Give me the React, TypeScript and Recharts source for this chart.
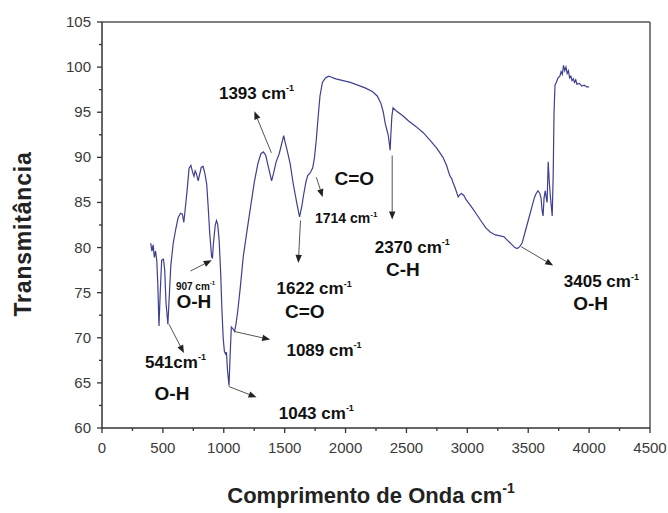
import React from 'react';
import {
  LineChart,
  Line,
  XAxis,
  YAxis,
  ReferenceLine,
  ReferenceDot,
  Label,
} from 'recharts';

// ── FTIR spectrum ──
const WAVENUMBER = [
  400, 410, 420, 430, 440, 450, 458, 468, 478, 490,
  505, 515, 525, 541, 550, 565, 585, 605, 625, 645,
  660, 672, 685, 700, 715, 730, 745, 755, 765, 775,
  790, 800, 815, 830, 845, 860, 872, 885, 900, 907,
  915, 930, 940, 950, 962, 975, 985, 995, 1005, 1015,
  1022, 1030, 1043, 1052, 1062, 1075, 1089, 1100, 1115, 1135,
  1160, 1190, 1220, 1250, 1280, 1305, 1325, 1345, 1365, 1393,
  1410, 1430, 1455, 1470, 1492, 1505, 1520, 1545, 1570, 1600,
  1622, 1640, 1655, 1675, 1690, 1705, 1714, 1730, 1745, 1760,
  1775, 1790, 1810, 1835, 1860, 1880, 1920, 1980, 2040, 2100,
  2160, 2220, 2260, 2290, 2310, 2325, 2340, 2350, 2360, 2366,
  2372, 2380, 2390, 2420, 2470, 2520, 2580, 2640, 2700, 2750,
  2800, 2830, 2850, 2862, 2870, 2880, 2900, 2915, 2925, 2935,
  2950, 2970, 2990, 3030, 3070, 3110, 3150, 3190, 3230, 3270,
  3300, 3330, 3360, 3390, 3410, 3430, 3450, 3470, 3490, 3510,
  3530, 3550, 3565, 3580, 3595, 3605, 3615, 3622, 3630, 3640,
  3648, 3655, 3664, 3672, 3680, 3690, 3697, 3705, 3712, 3720,
  3730, 3745, 3760, 3770, 3780, 3790, 3800, 3810, 3820, 3830,
  3840, 3850, 3860, 3870, 3880, 3890, 3900, 3920, 3940, 3960,
  3980, 4000,
];

const TRANSMITTANCE = [
  80.5, 79.6, 80.3, 78.9, 79.6, 78.5, 76, 71.3, 75, 78.6,
  78.7, 77.5, 74, 71.5, 74, 78, 80.5, 82, 83.3, 83.8,
  83.7, 82.8, 84.5, 86.5, 88.8, 89.1, 88.3, 87.9, 88.5, 88.2,
  87.4, 88, 88.9, 89, 88.2, 87, 84.5, 81.5, 79, 78.8,
  80.5, 82.5, 83, 82.6, 80.8, 77, 73, 70, 68.5, 68.2,
  68.4, 66.5, 64.7, 68, 71.2, 71, 70.7, 71.5, 73, 75.5,
  79, 81.8, 84.5, 87.2, 89.3, 90.4, 90.6, 90.2, 89, 87.4,
  88.3, 89.5, 90.4, 91.2, 92.4, 91.6, 90.8, 89.3, 87.1, 84.9,
  83.4, 84.5, 85.8, 87.3, 88, 88.2, 88.4, 88.8, 90, 92,
  94.5, 96.8, 98.3, 98.8, 99, 98.9, 98.7, 98.5, 98.3, 98,
  97.7, 97.3, 96.8, 96, 95, 93.8, 93, 92.5, 91.5, 90.8,
  92.5, 94.5, 95.5, 95.1, 94.6, 94, 93.4, 92.7, 91.8, 91,
  90, 89.1, 88.2, 87.8, 87.7, 87.3, 86.6, 86, 85.6, 85.8,
  86, 85.8, 85.3, 84.6, 83.8, 83, 82.2, 81.7, 81.4, 81.3,
  81.2, 80.8, 80.4, 80, 79.9, 80.1, 80.5, 81.5, 82.5, 83.5,
  84.5, 85.5, 86, 86.3, 86, 85.5, 84, 83.5, 85.5, 86.3,
  85.5, 85, 89.5, 87.5, 86, 84.5, 83.5, 88, 95, 98,
  98.3, 98.8, 99, 99.5, 99.2, 100.2, 99.6, 100, 99.3, 99.6,
  98.8, 99, 98.5, 98.7, 98.3, 98.6, 98.1, 98.2, 97.9, 98,
  97.8, 97.8,
];

const X_TICKS = [
  0, 250, 500, 750, 1000, 1250, 1500, 1750, 2000, 2250, 2500,
  2750, 3000, 3250, 3500, 3750, 4000, 4250, 4500,
];
const Y_TICKS = [
  60, 62.5, 65, 67.5, 70, 72.5, 75, 77.5, 80, 82.5, 85, 87.5,
  90, 92.5, 95, 97.5, 100, 102.5, 105,
];

// peak labels: anchor in data units, text, optional superscript, font size
const LABELS = [
  { x: 1269, y: 96.5, text: '1393 cm', sup: '-1', size: 17 },
  { x: 2072, y: 86.9, text: 'C=O', sup: '', size: 19 },
  { x: 2005, y: 82.7, text: '1714 cm', sup: '-1', size: 14 },
  { x: 2548, y: 79.4, text: '2370 cm', sup: '-1', size: 17 },
  { x: 2471, y: 76.9, text: 'C-H', sup: '', size: 19 },
  { x: 4101, y: 75.6, text: '3405 cm', sup: '-1', size: 17 },
  { x: 4013, y: 73.1, text: 'O-H', sup: '', size: 19 },
  { x: 768, y: 75.3, text: '907 cm', sup: '-1', size: 10 },
  { x: 754, y: 73.3, text: 'O-H', sup: '', size: 19 },
  { x: 1742, y: 74.8, text: '1622 cm', sup: '-1', size: 17 },
  { x: 1665, y: 72.2, text: 'C=O', sup: '', size: 19 },
  { x: 1823, y: 68.0, text: '1089 cm', sup: '-1', size: 17 },
  { x: 603, y: 66.7, text: '541cm', sup: '-1', size: 17 },
  { x: 575, y: 63.1, text: 'O-H', sup: '', size: 19 },
  { x: 1760, y: 61.0, text: '1043 cm', sup: '-1', size: 17 },
];

// arrows from the band to its label (data units)
const ARROWS = [
  { from: { x: 1391, y: 90.5 }, to: { x: 1251, y: 95.1 } },
  { from: { x: 1760, y: 87.8 }, to: { x: 1812, y: 85.6 } },
  { from: { x: 2383, y: 90.2 }, to: { x: 2383, y: 83.1 } },
  { from: { x: 1630, y: 83.0 }, to: { x: 1612, y: 78.3 } },
  { from: { x: 726, y: 77.4 }, to: { x: 901, y: 78.6 } },
  { from: { x: 550, y: 71.5 }, to: { x: 673, y: 68.3 } },
  { from: { x: 1087, y: 70.7 }, to: { x: 1381, y: 69.8 } },
  { from: { x: 1041, y: 64.6 }, to: { x: 1269, y: 63.4 } },
  { from: { x: 3442, y: 80.1 }, to: { x: 3705, y: 78.0 } },
];

const data = WAVENUMBER.map((wn, i) => ({ wn, t: TRANSMITTANCE[i] }));

const FONT = "'Liberation Sans', Arial, sans-serif";
const AXIS = '#333';

function XTick({ x, y, payload }: any) {
  const v = payload.value;
  const major = v % 500 === 0;
  return (
    <g>
      <line x1={x} y1={y} x2={x} y2={y + (major ? 5 : 3)} stroke={AXIS} strokeWidth={1.3} />
      {major && (
        <text x={x} y={y + 25} textAnchor="middle" fontSize={15} fill="#3a3a3a" fontFamily={FONT}>
          {v}
        </text>
      )}
    </g>
  );
}

function YTick({ x, y, payload }: any) {
  const v = payload.value;
  const major = v % 5 === 0;
  return (
    <g>
      <line x1={x - (major ? 5 : 3)} y1={y} x2={x} y2={y} stroke={AXIS} strokeWidth={1.3} />
      {major && (
        <text x={x - 11} y={y + 5} textAnchor="end" fontSize={15} fill="#3a3a3a" fontFamily={FONT}>
          {v}
        </text>
      )}
    </g>
  );
}

function Arrow({ x1, y1, x2, y2 }: any) {
  const a = Math.atan2(y2 - y1, x2 - x1);
  const len = 8;
  const w = 3.2;
  const bx = x2 - len * Math.cos(a);
  const by = y2 - len * Math.sin(a);
  const px = -Math.sin(a) * w;
  const py = Math.cos(a) * w;
  return (
    <g>
      <line x1={x1} y1={y1} x2={bx} y2={by} stroke="#555" strokeWidth={1} />
      <polygon points={`${x2},${y2} ${bx + px},${by + py} ${bx - px},${by - py}`} fill="#222" />
    </g>
  );
}

function labelShape(l: (typeof LABELS)[number]) {
  return ({ cx, cy }: any) => (
    <text x={cx} y={cy} textAnchor="middle" fontSize={l.size} fontWeight="bold" fill="#111" fontFamily={FONT}>
      {l.text}
      {l.sup && (
        <tspan fontSize={Math.round(l.size * 0.55)} dy={-l.size * 0.45}>
          {l.sup}
        </tspan>
      )}
    </text>
  );
}

function YTitle({ viewBox }: any) {
  const cx = viewBox.x + 31;
  const cy = viewBox.y + viewBox.height / 2 + 9;
  return (
    <text
      x={cx}
      y={cy}
      transform={`rotate(-90 ${cx} ${cy})`}
      textAnchor="middle"
      fontSize={23}
      letterSpacing={0.8}
      fontWeight="bold"
      fill="#222"
      fontFamily={FONT}
    >
      Transmitância
    </text>
  );
}

function XTitle({ viewBox }: any) {
  const cx = viewBox.x + viewBox.width / 2 - 5;
  const cy = viewBox.y + 75;
  return (
    <text x={cx} y={cy} textAnchor="middle" fontSize={22} fontWeight="bold" fill="#222" fontFamily={FONT}>
      Comprimento de Onda cm
      <tspan fontSize={14} dy={-10}>-1</tspan>
    </text>
  );
}

export default function App() {
  return (
    <div style={{ position: 'absolute', left: 0, top: 0, width: 668, height: 513, background: '#fff', fontFamily: FONT }}>
      <LineChart width={668} height={513} data={data} margin={{ top: 22, right: 18, bottom: 0, left: 0 }}>
        <XAxis
          dataKey="wn"
          type="number"
          domain={[0, 4500]}
          ticks={X_TICKS}
          interval={0}
          tick={<XTick />}
          tickSize={0}
          tickMargin={0}
          tickLine={false}
          axisLine={{ stroke: AXIS, strokeWidth: 1.5 }}
          height={85}
        >
          <Label content={<XTitle />} />
        </XAxis>
        <YAxis
          type="number"
          domain={[60, 105]}
          ticks={Y_TICKS}
          interval={0}
          tick={<YTick />}
          tickSize={0}
          tickMargin={0}
          tickLine={false}
          axisLine={{ stroke: AXIS, strokeWidth: 1.5 }}
          width={102}
        >
          <Label content={<YTitle />} />
        </YAxis>
        <ReferenceLine y={105} stroke="#555" strokeWidth={1.5} />
        <ReferenceLine x={4500} stroke="#555" strokeWidth={1.5} />
        <Line
          type="linear"
          dataKey="t"
          stroke="#3d3f91"
          strokeWidth={1.2}
          dot={false}
          isAnimationActive={false}
        />
        {ARROWS.map((a, i) => (
          <ReferenceLine key={`a${i}`} segment={[a.from, a.to]} shape={(p: any) => <Arrow {...p} />} />
        ))}
        {LABELS.map((l, i) => (
          <ReferenceDot key={`l${i}`} x={l.x} y={l.y} r={0} shape={labelShape(l)} />
        ))}
      </LineChart>
    </div>
  );
}
